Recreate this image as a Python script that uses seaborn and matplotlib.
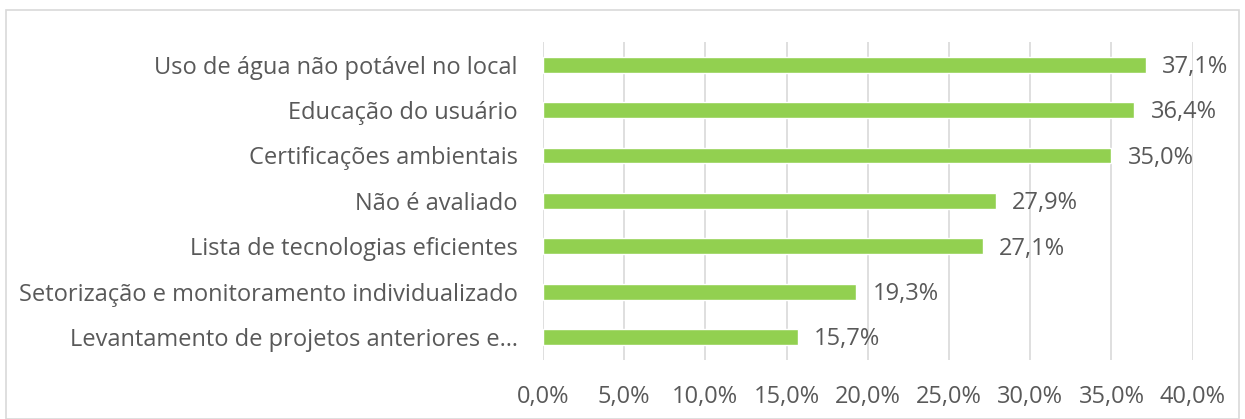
import pandas as pd
import seaborn as sns
import matplotlib.pyplot as plt
from matplotlib.patches import Rectangle

categories = [
    "Uso de água não potável no local",
    "Educação do usuário",
    "Certificações ambientais",
    "Não é avaliado",
    "Lista de tecnologias eficientes",
    "Setorização e monitoramento individualizado",
    "Levantamento de projetos anteriores e…",
]
values = [37.1, 36.4, 35.0, 27.9, 27.1, 19.3, 15.7]
xticks = [0, 5, 10, 15, 20, 25, 30, 35, 40]

df = pd.DataFrame({"cat": categories, "val": values})

sns.set_style("white")
plt.rcParams['font.family'] = ['Open Sans', 'DejaVu Sans']
text_color = "#595959"
fs = 17

fig = plt.figure(figsize=(12.45, 4.19), dpi=100)
ax = fig.add_axes([0.436, 0.141, 0.522, 0.759])

sns.barplot(data=df, x="val", y="cat", color="#92D050", width=0.35,
            saturation=1, ax=ax, zorder=3)

ax.set_xlim(0, 40)
ax.set_ylim(6.5, -0.5)
ax.set_xticks(xticks)
ax.set_xticklabels([f"{t:.1f}%".replace(".", ",") for t in xticks],
                   fontsize=fs, color=text_color)
ax.tick_params(axis="y", labelsize=fs, labelcolor=text_color, length=0, pad=18)
ax.tick_params(axis="x", length=0, pad=18)
ax.set_xlabel("")
ax.set_ylabel("")
ax.grid(axis="x", color="#D9D9D9", linewidth=1.2, zorder=0)
for s in ax.spines.values():
    s.set_visible(False)

for i, v in enumerate(values):
    ax.text(v + 1.0, i + 0.05, f"{v:.1f}%".replace(".", ","), va="center",
            ha="left", fontsize=fs, color=text_color)

fig.patches.append(Rectangle((0.005, 0.0), 0.99, 0.975, transform=fig.transFigure,
                             fill=False, edgecolor="#D9D9D9", linewidth=1.2))

fig.savefig("out.png", dpi=100)
